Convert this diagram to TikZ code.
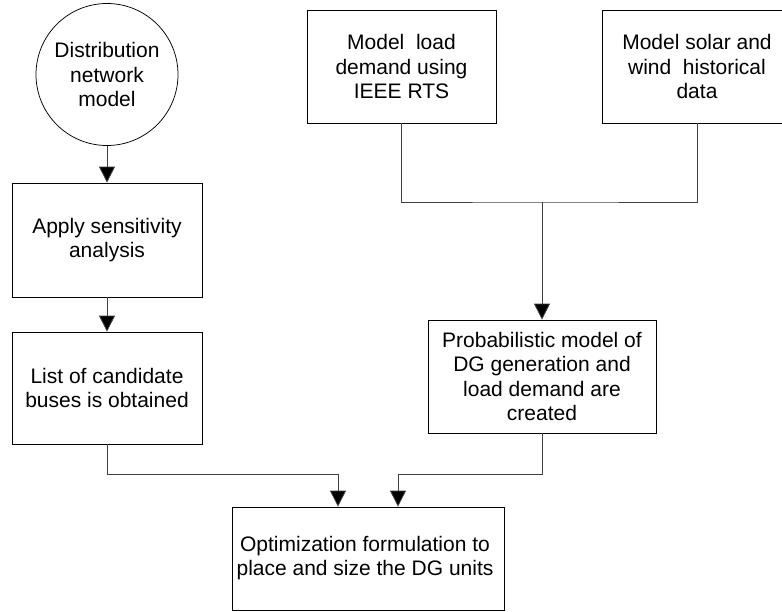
\documentclass[tikz,border=0pt]{standalone}
\usepackage{fontspec}
\setmainfont{Liberation Sans}
\usetikzlibrary{arrows.meta}
\begin{document}
\begin{tikzpicture}[x=1pt,y=-1pt,
  every node/.style={font=\fontsize{21}{24.5}\selectfont, align=center, inner sep=0pt},
  stepbox/.style={draw=black, line width=0.75pt, rectangle, minimum height=#1},
  stepbox/.default=113pt,
  startcircle/.style={draw=black, line width=0.75pt, circle, minimum size=142pt},
  link/.style={draw=black!75, line width=0.8pt},
  arr/.style={link, -{Triangle[length=16pt 0,width=16pt 0,fill=black]}}]
  \useasboundingbox (0,0) rectangle (782,611);

  % left column
  \node[startcircle] (dist) at (107,74.5) {Distribution\\network\\model};
  \node[stepbox=114pt, minimum width=190pt] (apply) at (107,240) {Apply sensitivity\\analysis};
  \node[stepbox=112pt, minimum width=190pt] (list) at (107,388) {List of candidate\\buses is obtained};

  % data models
  \node[stepbox, minimum width=189pt] (load) at (401.5,66.5) {Model~ load\\demand using\\IEEE RTS};
  \node[stepbox, minimum width=190pt] (solar) at (697,66.5) {Model solar and\\wind~ historical\\data};
  \node[stepbox, minimum width=228pt] (prob) at (542,376.5) {Probabilistic model of\\DG generation and\\load demand are\\created};

  % final step
  \node[stepbox=103pt, minimum width=272pt] (opt) at (368,558.5) {};
  \node (opttext) at (365,558) {Optimization formulation to\\place and size the DG units};

  \coordinate (join) at (542,202);

  % connectors
  \draw[arr] (dist.south) -- (apply.north);
  \draw[arr] (apply.south) -- (list.north);
  \draw[link] (load.south) |- (join) -| (solar.south);
  \draw[arr] (join) -- (prob.north);
  \draw[arr] (list.south) |- (338,474) -- ([xshift=-30pt]opt.north);
  \draw[arr] (prob.south) |- (398,474) -- ([xshift=30pt]opt.north);
\end{tikzpicture}
\end{document}
